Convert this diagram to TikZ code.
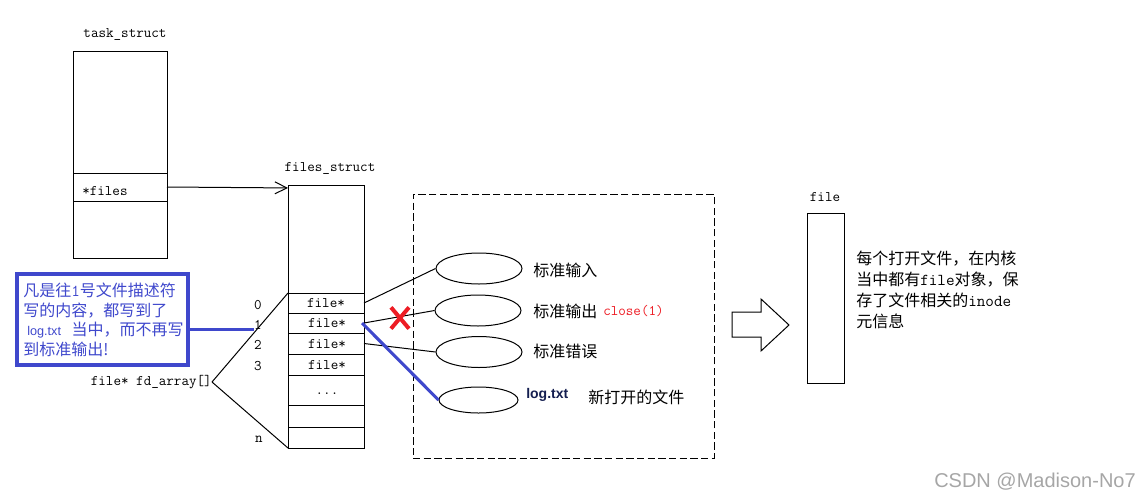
\documentclass[tikz,border=0pt]{standalone}
\usepackage{fontspec}
\newfontfamily\cjk{Noto Sans CJK SC}
\newfontfamily\lsans{Liberation Sans}
\usetikzlibrary{arrows.meta,shapes.geometric,shapes.misc}
\definecolor{pblue}{RGB}{63,72,204}
\definecolor{pred}{RGB}{237,28,36}
\definecolor{navy}{RGB}{20,30,80}
\newcommand{\hw}[1]{{\ttfamily\fontsize{12.5}{13}\selectfont #1}}
\begin{document}
\begin{tikzpicture}[x=0.75pt,y=-0.75pt,
  thin line/.style={line width=0.75pt},
  cell/.style={draw,thin line,inner sep=0pt,outer sep=0pt},
  mono/.style={font=\fontsize{11}{13}\selectfont\ttfamily,inner sep=0pt},
  zh/.style={font=\fontsize{12}{14}\selectfont\cjk,inner sep=0pt},
  oval/.style={draw,thin line,ellipse,inner sep=0pt,minimum width=64.5pt,minimum height=23.25pt},
  conn/.style={thin line},
  bluelink/.style={pblue,line width=2.3pt}
]
\useasboundingbox (0,0) rectangle (1140,501);

% task_struct
\node[mono] (tasklbl) at (125,34) {task\_struct};
\node[cell,minimum width=70.5pt,minimum height=91.5pt] (ttop) at (120,112) {};
\node[cell,minimum width=70.5pt,minimum height=21pt] (tfiles) at (120,187) {};
\node[cell,minimum width=70.5pt,minimum height=42.75pt] (tbot) at (120,229.5) {};
\node[mono,anchor=west] (tfilestxt) at (82,191) {*files};

% files_struct
\node[mono] (fslbl) at (330,168) {files\_struct};
\node[cell,minimum width=57pt,minimum height=81pt] (fstop) at (326,239) {};
\node[cell,minimum width=57pt,minimum height=15pt] (r0) at (326,303) {};
\node[cell,minimum width=57pt,minimum height=15pt] (r1) at (326,323) {};
\node[cell,minimum width=57pt,minimum height=15.75pt] (r2) at (326,343.5) {};
\node[cell,minimum width=57pt,minimum height=15.75pt] (r3) at (326,364.5) {};
\node[cell,minimum width=57pt,minimum height=22.5pt] (rdots) at (326,390) {};
\node[cell,minimum width=57pt,minimum height=16.5pt] (r5) at (326,416) {};
\node[cell,minimum width=57pt,minimum height=15.75pt] (rn) at (326,437.5) {};
\node[mono] (t0) at (326,303) {file*};
\node[mono] (t1) at (327,323) {file*};
\node[mono] (t2) at (327,344) {file*};
\node[mono] (t3) at (327,365) {file*};
\node[mono] (tdots) at (327,394) {...};

\draw[conn,-{Straight Barb[length=9pt,width=9pt]}] (tfiles.east) -- ([yshift=-2.2pt]fstop.north west);

% indices
\node[mono] (i0) at (258,305) {0};
\node[mono] (i1) at (258,325) {1};
\node[mono] (i2) at (258,345) {2};
\node[mono] (i3) at (258,366) {3};
\node[mono] (in) at (259,439) {n};

\node[mono,anchor=east] (fd) at (212,382) {file* fd\_array[]};
\draw[conn] (fd.east) -- (r0.north west);
\draw[conn] (fd.east) -- (rn.south west);

% dashed region
\node[draw,thin line,dash pattern=on 5.5pt off 2.5pt,inner sep=0pt,minimum width=225.75pt,minimum height=198pt] (region) at (563.5,326) {};

\node[oval] (e1) at (479,268.5) {};
\node[oval] (e2) at (478,310.5) {};
\node[oval] (e3) at (479,352) {};
\node[oval,minimum width=59.25pt,minimum height=19.5pt] (e4) at (478.5,400) {};

\draw[conn] (r0.east) -- (e1.west);
\draw[conn] (r1.east) -- (e2.west);
\draw[conn] (r2.east) -- (e3.west);
\draw[bluelink] ([xshift=-1.5pt]r1.east) -- (e4.west);

\node[cross out,draw=pred,line width=3pt,minimum width=10.5pt,minimum height=13pt,inner sep=0pt] (xmark) at (400,318) {};

\node[zh,anchor=west] (l1) at (533,270) {标准输入};
\node[zh,anchor=west] (l2) at (533,311) {标准输出};
\node[mono,anchor=west,text=pred] (close) at (603,311) {close(1)};
\node[zh,anchor=west] (l3) at (533,351) {标准错误};
\node[anchor=west,inner sep=0pt,font=\fontsize{10.5}{12}\selectfont\lsans\bfseries,text=navy] (loglbl) at (526,395) {log.txt};
\node[zh,anchor=west] (l4) at (588,397) {新打开的文件};

% big arrow
\draw[thin line] (732,312) -- (761,312) -- (761,299) -- (789,325) -- (761,351) -- (761,337) -- (732,337) -- cycle;

% file object
\node[mono] (filelbl) at (825,197) {file};
\node[cell,minimum width=27.75pt,minimum height=127.5pt] (fileobj) at (825.5,298) {};
\node[zh,anchor=north west,align=left,font=\fontsize{12}{15.75}\selectfont\cjk] (desc) at (856,251)
  {每个打开文件，在内核\\当中都有\hw{file}对象，保\\存了文件相关的\hw{inode}\\元信息};

% callout
\node[draw=pblue,line width=2.3pt,inner sep=0pt,minimum width=128.25pt,minimum height=68.25pt] (callout) at (102.5,319.5) {};
\node[anchor=north west,align=left,inner sep=0pt,text=pblue,font=\fontsize{12}{14.6}\selectfont\cjk] (calltxt) at (23,283)
  {凡是往\hw{1}号文件描述符\\写的内容，都写到了\\\hspace{3pt}{\lsans\fontsize{9.5}{11}\selectfont log.txt}\hspace{8pt}当中，而不再写\\到标准输出!};
\draw[bluelink] (callout.east |- i1.south west) -- (i1.south west);

% watermark
\node[anchor=east,inner sep=0pt,text=black!35,font=\fontsize{15}{17}\selectfont\lsans] (wm) at (1136,482) {CSDN @Madison-No7};
\end{tikzpicture}
\end{document}
